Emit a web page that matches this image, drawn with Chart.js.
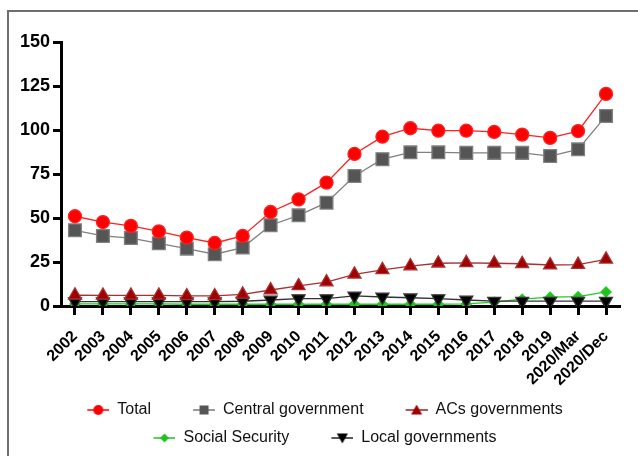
<!DOCTYPE html>
<html>
<head>
<meta charset="utf-8">
<script src="https://cdn.jsdelivr.net/npm/chart.js@4"></script>
<style>
  html, body { margin: 0; padding: 0; background: #fff; }
  #wrap { position: relative; width: 638px; height: 456px; overflow: hidden; }
  #frame { position: absolute; left: 7px; top: 10px; width: 700px; height: 500px;
           border-left: 2px solid #6e6e6e; border-top: 2px solid #6e6e6e; }
  #myChart { position: absolute; left: 0; top: 0; }
</style>
</head>
<body>
<div id="wrap">
  <div id="frame"></div>
  <canvas id="myChart" width="638" height="456"></canvas>
</div>
<script>
const years = ['2002', '2003', '2004', '2005', '2006', '2007', '2008', '2009', '2010', '2011',
               '2012', '2013', '2014', '2015', '2016', '2017', '2018', '2019', '2020/Mar', '2020/Dec'];
const total   = [51, 47.7, 45.5, 42.4, 38.9, 35.8, 39.8, 53.4, 60.6, 70.1, 86.4, 96.2, 101, 99.6, 99.6, 98.9, 97.4, 95.5, 99.4, 120.5];
const central = [43, 39.8, 38.6, 35.6, 32.6, 29.4, 33.2, 45.9, 51.5, 58.7, 73.9, 83.4, 87.3, 87.3, 87, 87, 87, 85.2, 89, 108];
const acs     = [6.1, 6, 6, 6, 5.7, 5.7, 6.6, 9.1, 11.4, 13.6, 18, 20.5, 22.7, 24.3, 24.5, 24.3, 24, 23.3, 23.5, 26.5];
const social  = [1.2, 1.2, 1.2, 1.2, 1, 1, 1, 1, 1, 1, 1, 1, 1, 1, 1.2, 2.2, 3.9, 5, 5.3, 8];
const local   = [2.5, 2.5, 2.5, 2.5, 2.5, 2.5, 2.7, 3.4, 4.2, 4.2, 5.7, 5.1, 4.7, 4.2, 3.4, 2.8, 2.8, 2.8, 2.8, 2.8];
const yTicks  = [0, 25, 50, 75, 100, 125, 150];

const FONT = 'Arial, "Liberation Sans", sans-serif';

// little legend icon: short line + marker, line sits on the right part of the box
function legendIcon(shape, fill, line, r) {
    const c = document.createElement('canvas');
    c.width = 52; c.height = 16;
    const g = c.getContext('2d');
    const cx = 41, cy = 8;
    g.strokeStyle = line; g.lineWidth = 1.5;
    g.beginPath(); g.moveTo(30, cy); g.lineTo(52, cy); g.stroke();
    g.fillStyle = fill;
    g.beginPath();
    if (shape === 'circle') {
        g.arc(cx, cy, r, 0, Math.PI * 2);
    } else if (shape === 'rect') {
        g.rect(cx - r, cy - r, 2 * r, 2 * r);
    } else if (shape === 'triangle') {
        g.moveTo(cx, cy - r); g.lineTo(cx + r, cy + r * 0.8); g.lineTo(cx - r, cy + r * 0.8);
    } else if (shape === 'down') {
        g.moveTo(cx, cy + r); g.lineTo(cx + r, cy - r * 0.8); g.lineTo(cx - r, cy - r * 0.8);
    } else if (shape === 'diamond') {
        g.moveTo(cx, cy - r); g.lineTo(cx + r, cy); g.lineTo(cx, cy + r); g.lineTo(cx - r, cy);
    }
    g.closePath(); g.fill();
    return c;
}

const icons = [
    legendIcon('circle', '#ff0000', '#ff0000', 5),
    legendIcon('rect', '#555555', '#777777', 4.5),
    legendIcon('triangle', '#a00000', '#a02020', 5.5),
    legendIcon('diamond', '#1fc21f', '#1fc21f', 4.5),
    legendIcon('down', '#000000', '#222222', 5.5)
];

const ctx = document.getElementById('myChart').getContext('2d');
const myChart = new Chart(ctx, {
    type: 'line',
    data: {
        labels: years,
        datasets: [
            { label: 'Total', data: total, borderColor: '#ff2020', backgroundColor: '#ff0000',
              pointStyle: 'circle', pointRadius: 6.5, borderWidth: 1.3, order: 1 },
            { label: 'Central government', data: central, borderColor: '#808080', backgroundColor: '#555555',
              pointStyle: 'rect', pointRadius: 9, borderWidth: 1.3, order: 2 },
            { label: 'ACs governments', data: acs, borderColor: '#a83030', backgroundColor: '#a00000',
              pointStyle: 'triangle', pointRadius: 7.5, borderWidth: 1.3, order: 3 },
            { label: 'Social Security', data: social, borderColor: '#22cc22', backgroundColor: '#1fc21f',
              pointStyle: 'rectRot', pointRadius: 5, borderWidth: 1.3, order: 5 },
            { label: 'Local governments', data: local, borderColor: '#333333', backgroundColor: '#000000',
              pointStyle: 'triangle', rotation: 180, pointRadius: 7.5, borderWidth: 1.3, order: 4 }
        ]
    },
    options: {
        responsive: false,
        animation: false,
        layout: { padding: { top: 42, right: 18, left: 0, bottom: 0 } },
        elements: {
            point: { borderWidth: 0, hoverRadius: 6 },
            line: { tension: 0 }
        },
        plugins: {
            tooltip: { enabled: false },
            legend: {
                position: 'bottom',
                labels: {
                    usePointStyle: true,
                    pointStyleWidth: 52,
                    boxHeight: 16,
                    padding: 12,
                    color: '#111',
                    font: { family: FONT, size: 16 },
                    sort: function (a, b) { return a.datasetIndex - b.datasetIndex; },
                    generateLabels: function (chart) {
                        const items = Chart.defaults.plugins.legend.labels.generateLabels(chart);
                        items.forEach(function (it) { it.pointStyle = icons[it.datasetIndex]; it.rotation = 0; });
                        return items;
                    }
                }
            }
        },
        scales: {
            x: {
                offset: true,
                grid: { drawOnChartArea: false, drawTicks: true, tickLength: 9, tickColor: '#000', tickWidth: 3 },
                border: { color: '#000', width: 3 },
                ticks: { color: '#000', maxRotation: 45, minRotation: 45, padding: 12, autoSkip: false,
                         font: { family: FONT, size: 16, weight: 'bold' } },
                afterFit: function (s) { s.height = 84; }
            },
            y: {
                min: 0,
                max: 150,
                afterBuildTicks: function (s) { s.ticks = yTicks.map(function (v) { return { value: v }; }); },
                grid: { drawOnChartArea: false, drawTicks: true, tickLength: 8, tickColor: '#000', tickWidth: 3 },
                border: { color: '#000', width: 3 },
                ticks: { color: '#000', padding: 3, font: { family: FONT, size: 18, weight: 'bold' } },
                afterFit: function (s) { s.width = 61; }
            }
        }
    }
});
</script>
</body>
</html>
